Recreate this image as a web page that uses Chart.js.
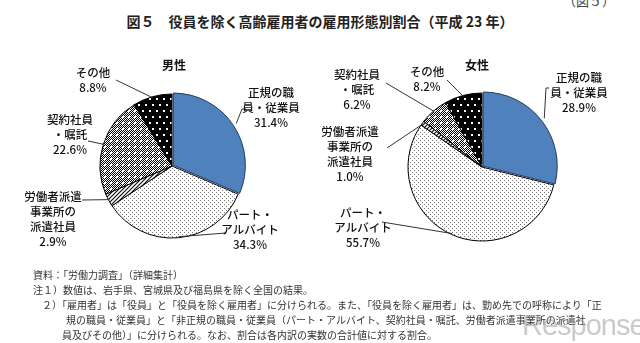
<!DOCTYPE html>
<html lang="ja">
<head>
<meta charset="utf-8">
<script src="https://cdn.jsdelivr.net/npm/chart.js@4.4.1/dist/chart.umd.min.js"></script>
<style>
  body { margin: 0; background: #fff; font-family: 'Noto Sans CJK JP', sans-serif; color: #222; }
  #page { position: relative; width: 640px; height: 343px; overflow: hidden; }
  canvas { position: absolute; left: 0; top: 0; }
  .txt { position: absolute; white-space: nowrap; }
  .note { font-size: 10px; line-height: 12px; color: #333; }
</style>
</head>
<body>
<div id="page">
  <div class="txt" style="left:563px;top:-9px;font-size:13px;color:#444">（図５）</div>
  <div class="txt" style="left:0;width:640px;top:11px;text-align:center;font-size:14px;font-weight:bold;color:#222">図５　役員を除く高齢雇用者の雇用形態別割合（平成 23 年）</div>
  <canvas id="chart-male" width="640" height="343"></canvas>
  <canvas id="chart-female" width="640" height="343"></canvas>
  <div class="txt note" style="left:33px;top:269px">資料：「労働力調査」（詳細集計）</div>
  <div class="txt note" style="left:33px;top:284px">注１）数値は、岩手県、宮城県及び福島県を除く全国の結果。</div>
  <div class="txt note" style="left:42px;top:299px">２）「雇用者」は「役員」と「役員を除く雇用者」に分けられる。また、「役員を除く雇用者」は、勤め先での呼称により「正</div>
  <div class="txt note" style="left:66px;top:314px">規の職員・従業員」と「非正規の職員・従業員（パート・アルバイト、契約社員・嘱託、労働者派遣事業所の派遣社</div>
  <div class="txt note" style="left:62px;top:329px">員及びその他）」に分けられる。なお、割合は各内訳の実数の合計値に対する割合。</div>
  <div class="txt" style="left:522px;top:309px;font-family:'Liberation Sans',sans-serif;font-size:29px;color:rgba(150,150,150,0.5);letter-spacing:-1px">Response.</div>
</div>
<script>
//////////////////////////////////////////////////
// Data

const categories = [
  ['正規の職', '員・従業員'],
  ['パート・', 'アルバイト'],
  ['労働者派遣', '事業所の', '派遣社員'],
  ['契約社員', '・嘱託'],
  ['その他']
]
const maleValues = [31.4, 34.3, 2.9, 22.6, 8.8]
const femaleValues = [28.9, 55.7, 1.0, 6.2, 8.2]
const chartTitles = ['男性', '女性']

//////////////////////////////////////////////////
// Fill patterns

const makePattern = (w, h, bg, draw) => {
  const c = document.createElement('canvas')
  c.width = w
  c.height = h
  const g = c.getContext('2d')
  g.fillStyle = bg
  g.fillRect(0, 0, w, h)
  draw(g)
  return g.createPattern(c, 'repeat')
}

const fills = [
  '#4F81BD',
  // light dots
  makePattern(4, 4, '#fff', (g) => {
    g.fillStyle = '#777'
    g.fillRect(0, 0, 1, 1)
    g.fillRect(2, 2, 1, 1)
  }),
  // diagonal hatch
  makePattern(4, 4, '#fff', (g) => {
    g.strokeStyle = '#111'
    g.lineWidth = 1.2
    g.beginPath()
    g.moveTo(-1, 5); g.lineTo(5, -1)
    g.moveTo(-1, 1); g.lineTo(1, -1)
    g.moveTo(3, 5); g.lineTo(5, 3)
    g.stroke()
  }),
  // dark checker with white dots
  makePattern(6, 6, '#000', (g) => {
    g.fillStyle = '#fff'
    for (let x = 0; x < 6; x++) {
      for (let y = 0; y < 6; y++) {
        if ((x + y) % 2 === 0) g.fillRect(x, y, 1, 1)
      }
    }
    g.fillRect(2, 2, 2, 2)
  }),
  // black with white dots
  makePattern(14, 12, '#000', (g) => {
    g.fillStyle = '#fff'
    g.fillRect(2, 2, 2, 2)
    g.fillRect(9, 2, 2, 2)
    g.fillRect(5, 8, 2, 2)
    g.fillRect(12, 8, 2, 2)
  })
]
const borders = ['#1F3A60', '#000', '#000', '#000', '#000']
const offsets = [6, 0, 0, 0, 0]

//////////////////////////////////////////////////
// Label placement (page coordinates)

const maleLabels = [
  { x: 271, y: 93, path: [[246, 109], [242, 109]] },
  { x: 250, y: 215, path: [[226, 233]] },
  { x: 53, y: 197, path: [[82, 200]] },
  { x: 70, y: 120, path: [[88, 141]] },
  { x: 93, y: 73, path: [[116, 80]] }
]
const femaleLabels = [
  { x: 579, y: 78, path: [[549, 88], [546, 88]] },
  { x: 363, y: 213, path: [[382, 222]] },
  { x: 350, y: 132, path: [[387, 148]] },
  { x: 357, y: 75, path: [[386, 83]] },
  { x: 427, y: 72, path: [[447, 80]] }
]

const labelPlugin = {
  id: 'sliceLabels',
  afterDraw(chart, args, opts) {
    const ctx = chart.ctx
    const meta = chart.getDatasetMeta(0)
    const ds = chart.data.datasets[0]
    ctx.save()
    // chart title
    ctx.font = 'bold 12px "Noto Sans CJK JP"'
    ctx.fillStyle = '#111'
    ctx.textAlign = 'center'
    ctx.textBaseline = 'middle'
    ctx.fillText(opts.title, opts.titleX, opts.titleY)

    ctx.font = '500 11.5px "Noto Sans CJK JP"'
    ctx.strokeStyle = '#333'
    ctx.lineWidth = 1
    meta.data.forEach((arc, i) => {
      const p = arc.getProps(['x', 'y', 'startAngle', 'endAngle', 'outerRadius'], true)
      const mid = (p.startAngle + p.endAngle) / 2
      const off = ds.offset[i] || 0
      const ax = p.x + Math.cos(mid) * (p.outerRadius + off - 1)
      const ay = p.y + Math.sin(mid) * (p.outerRadius + off - 1)
      const lab = opts.labels[i]
      ctx.beginPath()
      lab.path.forEach(([x, y], k) => (k === 0 ? ctx.moveTo(x, y) : ctx.lineTo(x, y)))
      ctx.lineTo(ax, ay)
      ctx.stroke()

      const lines = [...chart.data.labels[i], ds.data[i].toFixed(1) + '%']
      lines.forEach((t, k) => {
        ctx.fillText(t, lab.x, lab.y + k * 15)
      })
    })
    ctx.restore()
  }
}

const makePie = (id, values, labels, title, titleX, padding) => {
  new Chart(document.getElementById(id), {
    type: 'pie',
    plugins: [labelPlugin],
    data: {
      labels: categories,
      datasets: [{
        data: values,
        backgroundColor: fills,
        borderColor: borders,
        borderWidth: 1,
        offset: offsets
      }]
    },
    options: {
      responsive: false,
      animation: false,
      layout: { padding },
      plugins: {
        legend: { display: false },
        tooltip: { enabled: false },
        sliceLabels: { labels, title, titleX, titleY: 65 }
      }
    }
  })
}

// male: center (172,166), r 72 ; female: center (482,167), r 74
makePie('chart-male', maleValues, maleLabels, chartTitles[0], 174,
  { left: 96.5, right: 392.5, top: 90.5, bottom: 101.5 })
makePie('chart-female', femaleValues, femaleLabels, chartTitles[1], 477,
  { left: 404.5, right: 80.5, top: 89.5, bottom: 98.5 })
</script>
</body>
</html>
